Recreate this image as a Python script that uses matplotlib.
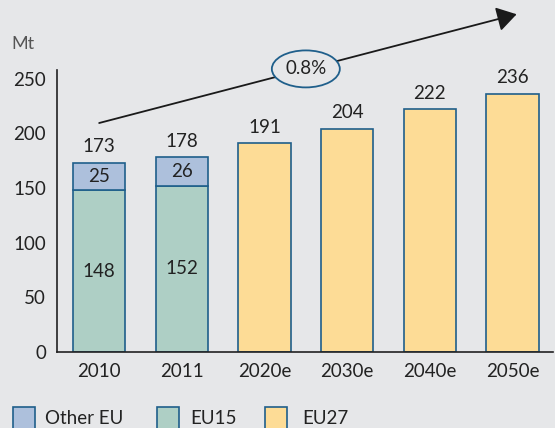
import matplotlib
matplotlib.use("Agg")
import matplotlib.pyplot as plt
from matplotlib.patches import Rectangle, Ellipse

categories = ["2010", "2011", "2020e", "2030e", "2040e", "2050e"]
eu15 = [148, 152, 0, 0, 0, 0]
other_eu = [25, 26, 0, 0, 0, 0]
eu27 = [0, 0, 191, 204, 222, 236]
totals = [173, 178, 191, 204, 222, 236]
yticks = [0, 50, 100, 150, 200, 250]
growth_label = "0.8%"
legend_labels = ["Other EU", "EU15", "EU27"]

plt.rcParams['font.family'] = ['Lato', 'DejaVu Sans']
bg = "#e6e7e9"
edge = "#1f5f8b"
c_other = "#adc0dc"
c_eu15 = "#aecfc5"
c_eu27 = "#fddc96"
txt = "#222222"

W, H = 555, 428
fig = plt.figure(figsize=(W / 100, H / 100), dpi=100, facecolor=bg)
ax = fig.add_axes([57/W, (H-352)/H, (553-57)/W, (352-70)/H])
ax.set_facecolor(bg)

x = list(range(len(categories)))
w = 0.63
hist = [i for i in x if eu15[i] > 0]
proj = [i for i in x if eu27[i] > 0]
ax.bar(hist, [eu15[i] for i in hist], width=w, color=c_eu15, edgecolor=edge, linewidth=1.2)
ax.bar(hist, [other_eu[i] for i in hist], bottom=[eu15[i] for i in hist], width=w,
       color=c_other, edgecolor=edge, linewidth=1.2)
ax.bar(proj, [eu27[i] for i in proj], width=w, color=c_eu27, edgecolor=edge, linewidth=1.2)

fs = 13.5
for i in x:
    ax.annotate(str(totals[i]), (i, totals[i]), xytext=(0, 5.5), textcoords="offset points",
                ha="center", va="bottom", fontsize=fs, color=txt)
for i in hist:
    ax.text(i, eu15[i] / 2, str(eu15[i]), ha="center", va="center", fontsize=fs, color=txt)
    ax.text(i, eu15[i] + other_eu[i] / 2, str(other_eu[i]), ha="center", va="center",
            fontsize=fs, color=txt)

ax.set_xlim(-0.51, 5.49)
ax.set_ylim(0, 258)
ax.set_xticks(x)
ax.set_xticklabels(categories, fontsize=fs, color=txt)
ax.set_yticks(yticks)
ax.set_yticklabels([str(v) for v in yticks], fontsize=fs, color=txt)
ax.tick_params(length=0)
ax.tick_params(axis='y', pad=8)
ax.tick_params(axis='x', pad=8)
for s in ["top", "right"]:
    ax.spines[s].set_visible(False)
for s in ["left", "bottom"]:
    ax.spines[s].set_color("#222222")
    ax.spines[s].set_linewidth(1.2)

# trend arrow
ax.annotate("", xy=(5.05, 309), xytext=(0.0, 209.5),
            arrowprops=dict(arrowstyle="-|>,head_length=1.2,head_width=0.75",
                            color="#1a1a1a", lw=1.3, shrinkA=0, shrinkB=0),
            annotation_clip=False)
ax.add_patch(Ellipse((2.5, 259), width=68/82.7, height=37/1.093, facecolor=bg,
                     edgecolor=edge, lw=1.3, clip_on=False, zorder=5))
ax.text(2.5, 259, growth_label, ha="center", va="center", fontsize=fs, color=txt,
        clip_on=False, zorder=6)

fig.text(11/W, 1 - 44/H, "Mt", fontsize=13, color="#555555", va="center", ha="left")

# legend
leg_colors = [c_other, c_eu15, c_eu27]
leg_sq_x = [13, 157, 265]
leg_txt_x = [45, 190, 302]
for lab, col, sx, tx in zip(legend_labels, leg_colors, leg_sq_x, leg_txt_x):
    fig.add_artist(Rectangle((sx/W, (H-430)/H), 22/W, 23/H, transform=fig.transFigure,
                             facecolor=col, edgecolor=edge, lw=1.2))
    fig.text(tx/W, 1 - 419/H, lab, fontsize=fs, color=txt, va="center", ha="left")

fig.savefig("out.png", dpi=100, facecolor=bg)
